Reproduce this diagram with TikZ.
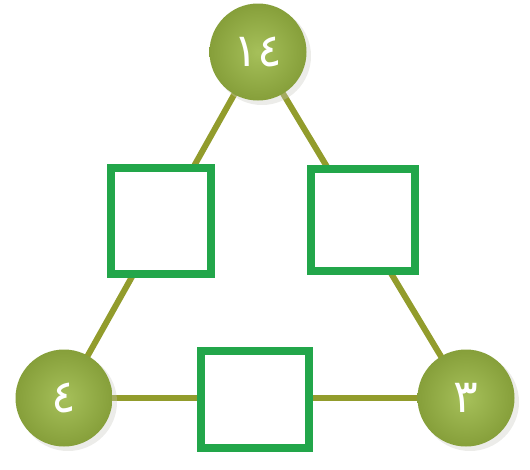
\documentclass[tikz,border=0pt]{standalone}
\usepackage{fontspec}
\newfontfamily\arabicfont[Script=Arabic]{DejaVu Sans}
\usetikzlibrary{backgrounds}
\definecolor{linkolive}{HTML}{929C2C}
\definecolor{boxgreen}{HTML}{22A64A}
\definecolor{ballin}{HTML}{A6C05A}
\definecolor{ballout}{HTML}{869F3A}
\definecolor{shadowgray}{HTML}{C8C8C0}
\tikzset{
  ball/.style={circle, minimum size=97pt, inner sep=0pt,
    inner color=ballin, outer color=ballout, text=white,
    font=\arabicfont\fontsize{46}{46}\selectfont},
  answerbox/.style={draw=boxgreen, line width=8pt, fill=white, inner sep=0pt},
  link/.style={draw=linkolive, line width=6pt}
}
\begin{document}
\begin{tikzpicture}[x=1pt,y=-1pt]
\useasboundingbox (0,0) rectangle (530,469);
\fill[shadowgray, opacity=0.35] (262,56) circle (49);
\fill[shadowgray, opacity=0.35] (68,402) circle (49);
\fill[shadowgray, opacity=0.35] (470,402) circle (49);
\node[ball] (top) at (258,52) {١٤};
\node[ball] (bl) at (64,398) {٤};
\node[ball] (br) at (466,398) {٣};
\node[answerbox, minimum width=100pt, minimum height=106pt] (sqL) at (161,221) {};
\node[answerbox, minimum width=104pt, minimum height=102pt] (sqR) at (363,220) {};
\node[answerbox, minimum width=108pt, minimum height=97pt] (sqB) at (255,399.5) {};
\begin{scope}[on background layer]
  \draw[link] (top.center) -- (bl.center);
  \draw[link] (top.center) -- (br.center);
  \draw[link] (bl.center) -- (br.center);
\end{scope}
\end{tikzpicture}
\end{document}
